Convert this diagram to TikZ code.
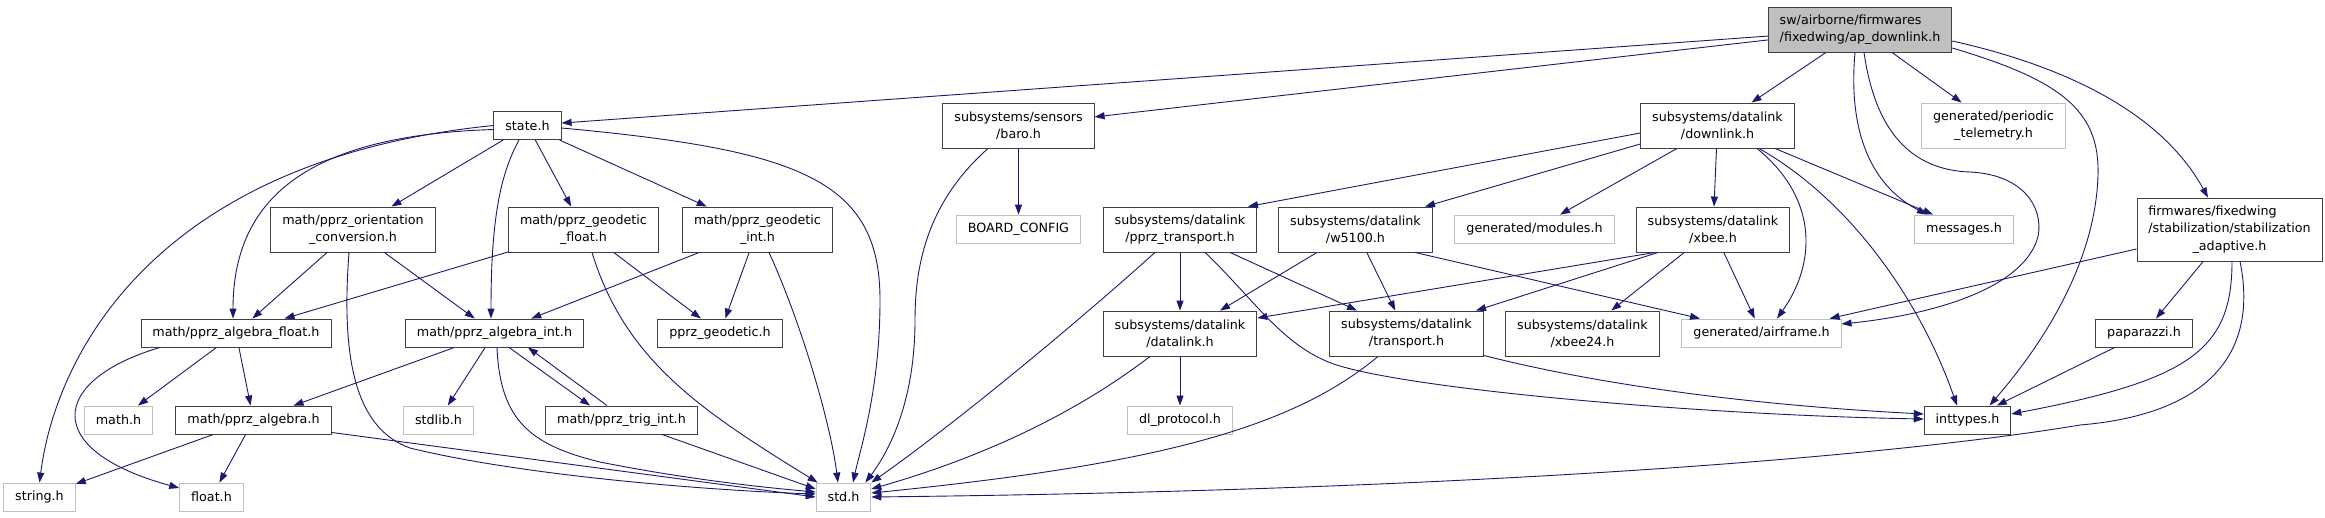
\documentclass[tikz,border=0pt]{standalone}
\usepackage{fontspec}
\setmainfont{DejaVu Sans}
\usepackage{xcolor}
\definecolor{edgeblue}{HTML}{191970}
\definecolor{boxline}{HTML}{404040}
\definecolor{extline}{HTML}{BFBFBF}
\definecolor{rootfill}{HTML}{BFBFBF}
\usepackage{tikz}
\usetikzlibrary{arrows.meta}
\newcommand{\firstln}[2]{\rlap{#1}\phantom{#2}}

\begin{document}
\begin{tikzpicture}[
  x=1pt, y=-1pt,
  font=\fontsize{12.7}{17.3}\selectfont,
  doc/.style={draw=boxline, line width=0.9pt, fill=white, align=center,
              inner xsep=11.5pt, inner ysep=1pt, minimum height=28pt},
  ext/.style={doc, draw=extline},
  root/.style={doc, fill=rootfill},
  tall2/.style={minimum height=45pt},
  tall3/.style={minimum height=63pt},
  dep/.style={-{Triangle[length=10pt,width=7pt]}, edgeblue, line width=0.9pt}
]
  \useasboundingbox (0,0) rectangle (2325,517);

  \node[root, tall2] (ap) at (1860,29.5) {\firstln{sw/airborne/firmwares}{/fixedwing/ap\_downlink.h}\\/fixedwing/ap\_downlink.h};

  \node[doc] (state) at (527.5,125.5) {state.h};
  \node[doc, tall2] (baro) at (1018.5,125.5) {subsystems/sensors\\/baro.h};
  \node[doc, tall2] (downlink) at (1717.5,125.5) {subsystems/datalink\\/downlink.h};
  \node[ext, tall2] (periodic) at (1993.5,125.5) {generated/periodic\\\_telemetry.h};

  \node[doc, tall2] (orient) at (353,229.5) {math/pprz\_orientation\\\_conversion.h};
  \node[doc, tall2] (geofloat) at (583.5,229.5) {math/pprz\_geodetic\\\_float.h};
  \node[doc, tall2] (geoint) at (757.5,229.5) {math/pprz\_geodetic\\\_int.h};
  \node[ext] (boardcfg) at (1018.5,229) {BOARD\_CONFIG};
  \node[doc, tall2] (pprztrans) at (1180,229.5) {subsystems/datalink\\/pprz\_transport.h};
  \node[doc, tall2] (w5100) at (1355.5,229.5) {subsystems/datalink\\/w5100.h};
  \node[ext] (modules) at (1534.5,229) {generated/modules.h};
  \node[doc, tall2] (xbee) at (1713,229.5) {subsystems/datalink\\/xbee.h};
  \node[ext] (messages) at (1964,229) {messages.h};
  \node[doc, tall3] (stabadapt) at (2229.5,229.5) {\firstln{firmwares/fixedwing}{/stabilization/stabilization}\\/stabilization/stabilization\\\_adaptive.h};

  \node[doc] (algfloat) at (236,333) {math/pprz\_algebra\_float.h};
  \node[doc] (algint) at (494.5,333) {math/pprz\_algebra\_int.h};
  \node[doc] (geodetic) at (720,333) {pprz\_geodetic.h};
  \node[doc, tall2] (datalink) at (1180,333.5) {subsystems/datalink\\/datalink.h};
  \node[doc, tall2] (transport) at (1406.5,333.5) {subsystems/datalink\\/transport.h};
  \node[doc, tall2] (xbee24) at (1582.5,333.5) {subsystems/datalink\\/xbee24.h};
  \node[ext] (airframe) at (1761.5,333) {generated/airframe.h};
  \node[doc] (paparazzi) at (2144,333) {paparazzi.h};

  \node[ext] (mathh) at (118.5,420) {math.h};
  \node[doc] (algebra) at (253.5,420) {math/pprz\_algebra.h};
  \node[ext] (stdlib) at (438.5,420) {stdlib.h};
  \node[doc] (trigint) at (621.5,420) {math/pprz\_trig\_int.h};
  \node[ext] (dlproto) at (1180,420) {dl\_protocol.h};
  \node[doc] (inttypes) at (1967.5,420) {inttypes.h};

  \node[ext] (stringh) at (39.5,497) {string.h};
  \node[ext] (floath) at (211.5,497) {float.h};
  \node[ext] (stdh) at (843.5,497) {std.h};

  % ap_downlink.h
  \draw[dep] (ap) -- (state);
  \draw[dep] (ap) -- (baro);
  \draw[dep] (ap) -- (downlink);
  \draw[dep] (ap) -- (periodic);
  \draw[dep] ([xshift=-5pt]ap.south) .. controls (1848,130) and (1870,185) .. ([xshift=-37pt]messages.north);
  \draw[dep] ([xshift=4pt]ap.south) .. controls (1875,130) and (1910,170) .. (1970,172)
             .. controls (2030,175) and (2045,215) .. (2037,240)
             .. controls (2020,290) and (1930,315) .. ([yshift=9pt]airframe.east);
  \draw[dep] ([yshift=-18.5pt]ap.east) .. controls (2060,80) and (2100,110) .. (2098,175)
             .. controls (2095,280) and (2020,370) .. ([xshift=22pt]inttypes.north);
  \draw[dep] ([yshift=-11.5pt]ap.east) .. controls (2060,65) and (2160,110) .. ([xshift=-21.5pt]stabadapt.north);

  % state.h
  \draw[dep] (state.west) .. controls (150,160) and (55,360) .. (stringh.north);
  \draw[dep] ([yshift=-4pt]state.west) .. controls (320,135) and (233,190) .. ([xshift=-3pt]algfloat.north);
  \draw[dep] (state) -- (orient);
  \draw[dep] ([xshift=-8.5pt]state.south) .. controls (500,175) and (491,220) .. ([xshift=-3.5pt]algint.north);
  \draw[dep] (state) -- (geofloat);
  \draw[dep] (state) -- (geoint);
  \draw[dep] ([yshift=-2.5pt]state.east) .. controls (800,150) and (880,180) .. (880,300)
             .. controls (880,390) and (860,450) .. ([xshift=9.5pt]stdh.north);

  % math/pprz_orientation_conversion.h
  \draw[dep] (orient) -- (algfloat);
  \draw[dep] (orient) -- (algint);
  \draw[dep] ([xshift=-4pt]orient.south) .. controls (340,370) and (360,430) .. (410,448)
             .. controls (520,475) and (700,490) .. ([yshift=3pt]stdh.west);

  % math/pprz_geodetic_float.h, math/pprz_geodetic_int.h
  \draw[dep] (geofloat) -- (algfloat);
  \draw[dep] (geofloat) -- (geodetic);
  \draw[dep] ([xshift=8.5pt]geofloat.south) .. controls (625,360) and (700,410) .. ([xshift=2pt]stdh.north west);
  \draw[dep] (geoint) -- (algint);
  \draw[dep] (geoint) -- (geodetic);
  \draw[dep] ([xshift=11.5pt]geoint.south) .. controls (800,320) and (830,420) .. ([xshift=-5.5pt]stdh.north);

  % math/pprz_algebra_float.h
  \draw[dep] (algfloat) -- (mathh);
  \draw[dep] (algfloat) -- (algebra);
  \draw[dep] ([xshift=-76pt]algfloat.south) .. controls (50,380) and (40,450) .. ([yshift=9pt]floath.west);

  % math/pprz_algebra_int.h, math/pprz_trig_int.h
  \draw[dep] (algint) -- (algebra);
  \draw[dep] (algint) -- (stdlib);
  \draw[dep] ([xshift=14.5pt]algint.south) -- ([xshift=-31.5pt]trigint.north);
  \draw[dep] ([xshift=2.5pt]algint.south) .. controls (500,420) and (530,445) .. (600,462)
             .. controls (690,480) and (770,488) .. ([yshift=5pt]stdh.west);
  \draw[dep] ([xshift=-14.5pt]trigint.north) -- ([xshift=33.5pt]algint.south);
  \draw[dep] ([xshift=40.5pt]trigint.south) -- ([yshift=8pt]stdh.west);

  % math/pprz_algebra.h
  \draw[dep] (algebra) -- (stringh);
  \draw[dep] (algebra) -- (floath);
  \draw[dep] ([yshift=2pt]algebra.south east) -- (stdh.west);

  % subsystems/sensors/baro.h
  \draw[dep] (baro) -- (boardcfg);
  \draw[dep] ([xshift=-30.5pt]baro.south) .. controls (930,200) and (915,260) .. (915,320)
             .. controls (915,400) and (890,450) .. ([xshift=-6pt]stdh.north east);

  % subsystems/datalink/downlink.h
  \draw[dep] ([yshift=-7.5pt]downlink.west) -- ([xshift=68pt]pprztrans.north);
  \draw[dep] ([yshift=-18.5pt]downlink.west) -- ([xshift=69.5pt]w5100.north);
  \draw[dep] (downlink) -- (modules);
  \draw[dep] (downlink) -- (xbee);
  \draw[dep] ([xshift=39.5pt]downlink.south) .. controls (1820,200) and (1815,265) .. ([xshift=15.5pt]airframe.north);
  \draw[dep] ([xshift=41.5pt]downlink.south) .. controls (1850,200) and (1920,300) .. ([xshift=-10.5pt]inttypes.north);
  \draw[dep] ([xshift=57.5pt]downlink.south) -- ([xshift=-31pt]messages.north);

  % subsystems/datalink/pprz_transport.h
  \draw[dep] (pprztrans) -- (datalink);
  \draw[dep] ([xshift=50pt]pprztrans.south) -- ([xshift=-49.5pt]transport.north);
  \draw[dep] ([xshift=-25pt]pprztrans.south) .. controls (1080,320) and (960,420) .. (stdh.north east);
  \draw[dep] ([xshift=25pt]pprztrans.south) .. controls (1255,300) and (1285,350) .. (1340,366)
             .. controls (1420,390) and (1700,415) .. ([yshift=1pt]inttypes.west);

  % subsystems/datalink/w5100.h
  \draw[dep] ([xshift=-38.5pt]w5100.south) -- ([xshift=40pt]datalink.north);
  \draw[dep] (w5100) -- (transport);
  \draw[dep] ([xshift=59.5pt]w5100.south) -- ([xshift=-61.5pt]airframe.north);

  % subsystems/datalink/xbee.h
  \draw[dep] ([xshift=-58pt]xbee.south) -- ([yshift=15.5pt]datalink.east);
  \draw[dep] ([xshift=-55pt]xbee.south) -- ([xshift=69.5pt]transport.north);
  \draw[dep] (xbee) -- (xbee24);
  \draw[dep] (xbee) -- (airframe);

  % subsystems/datalink/datalink.h, transport.h
  \draw[dep] (datalink) -- (dlproto);
  \draw[dep] ([xshift=-30pt]datalink.south) .. controls (1080,410) and (990,455) .. ([yshift=8pt]stdh.east);
  \draw[dep] ([xshift=-28.5pt]transport.south) .. controls (1290,430) and (1150,465) .. ([yshift=4pt]stdh.east);
  \draw[dep] ([yshift=1pt]transport.south east) .. controls (1600,385) and (1750,405) .. ([yshift=6pt]inttypes.west);

  % stabilization_adaptive.h, paparazzi.h
  \draw[dep] ([yshift=-19.5pt]stabadapt.west) -- ([xshift=-12pt]airframe.north east);
  \draw[dep] (stabadapt) -- (paparazzi);
  \draw[dep] ([xshift=2.5pt]stabadapt.south) .. controls (2232,350) and (2190,380) .. ([yshift=6pt]inttypes.east);
  \draw[dep] ([xshift=10.5pt]stabadapt.south) .. controls (2260,360) and (2200,415) .. (2080,425)
             .. controls (1900,455) and (1500,490) .. (stdh.east);
  \draw[dep] (paparazzi) -- (inttypes);
\end{tikzpicture}
\end{document}
